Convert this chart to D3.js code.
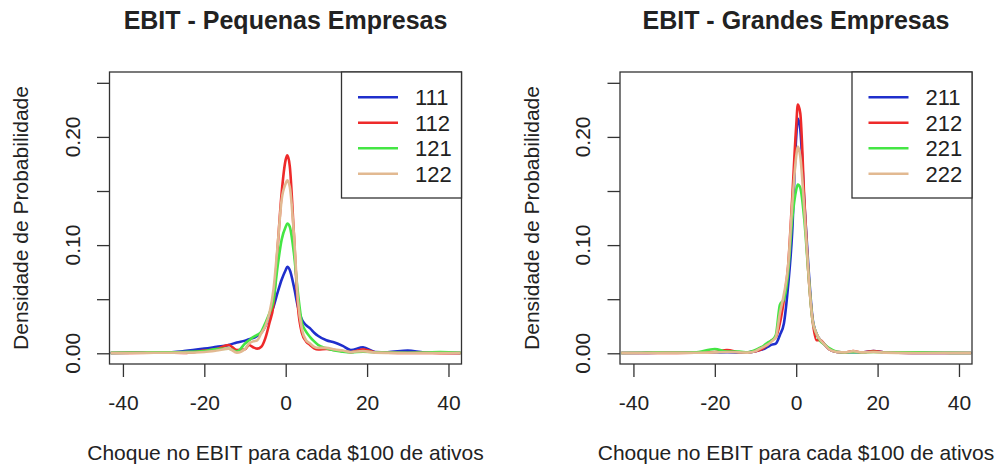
<!DOCTYPE html>
<html>
<head>
<meta charset="utf-8">
<script src="https://cdn.jsdelivr.net/npm/d3@7"></script>
<style>
  html, body { margin: 0; padding: 0; background: #fff; }
  svg { display: block; }
  text { font-family: "Liberation Sans", Arial, sans-serif; fill: #222; }
</style>
</head>
<body>
<svg id="chart" width="998" height="468"></svg>
<script>
// ---------- DATA ----------
const xGrid = [-43, -38, -34, -30, -25, -20, -17, -14, -12, -10, -9, -8, -7, -6, -5, -4, -3, -2, -1, 0, 0.4, 1, 2, 3, 4, 5, 6, 7, 8, 10, 12, 14, 16, 19, 22, 25, 30, 34, 38, 43];

const titles = ["EBIT - Pequenas Empresas", "EBIT - Grandes Empresas"];
const namesSmall = ["111", "112", "121", "122"];
const namesLarge = ["211", "212", "221", "222"];

const s111 = [.0003, .0005, .0008, .0008, .002, .0043, .006, .0077, .010, .0117, .013, .014, .016, .019, .025, .034, .043, .056, .068, .077, .080, .077, .062, .043, .031, .026, .023, .019, .016, .012, .010, .0068, .003, .0056, .0012, .001, .0025, .0008, .0005, .0003];
const s112 = [.0002, .0004, .0005, .0006, .0003, .0025, .004, .0077, .003, .0037, .0077, .0056, .0043, .006, .014, .028, .045, .097, .148, .179, .183, .173, .111, .043, .0185, .011, .0077, .0046, .0035, .004, .003, .002, .001, .0037, .001, .0005, .0003, .0004, .0001, .0002];
const s121 = [.0004, .0006, .0008, .0009, .0012, .002, .004, .0043, .0015, .009, .012, .015, .017, .020, .028, .037, .049, .080, .105, .117, .120, .117, .093, .056, .028, .020, .015, .011, .0077, .0046, .0025, .0015, .001, .0015, .0008, .0006, .0005, .0006, .0012, .0004];
const s122 = [.0002, .0003, .0004, .0005, .0006, .0012, .0025, .0043, .0006, .004, .009, .011, .012, .0185, .025, .037, .059, .099, .142, .157, .160, .154, .111, .049, .022, .012, .009, .006, .005, .005, .0035, .0025, .0012, .002, .0006, .0004, .0003, .0003, .0003, .0002];

const s211 = [.0002, .0003, .0005, .0005, .0006, .0008, .0010, .0006, .0008, .002, .003, .004, .006, .008, .009, .017, .028, .062, .111, .200, .217, .207, .139, .080, .033, .018, .012, .008, .004, .0012, .0008, .001, .0008, .002, .0008, .0005, .0004, .0003, .0003, .0002];
const s212 = [.0002, .0003, .0004, .0004, .0005, .0012, .003, .001, .0006, .002, .003, .005, .008, .012, .015, .028, .050, .080, .142, .210, .230, .222, .142, .074, .031, .012, .012, .008, .004, .0012, .0008, .002, .001, .002, .0008, .0005, .0003, .0003, .0002, .0002];
const s221 = [.0003, .0005, .0008, .0006, .0008, .004, .0015, .0015, .0008, .003, .005, .007, .010, .012, .017, .045, .050, .074, .123, .151, .156, .153, .123, .074, .031, .018, .011, .008, .005, .0015, .0008, .001, .0008, .0012, .0006, .0008, .0008, .0006, .0004, .0003];
const s222 = [.0002, .0003, .0004, .0004, .0005, .0008, .0012, .0008, .0006, .002, .004, .006, .008, .011, .015, .037, .055, .080, .136, .182, .191, .182, .133, .074, .031, .018, .012, .008, .004, .0012, .0008, .002, .0008, .0012, .0006, .0004, .0003, .0003, .0002, .0002];

const xTicks = [-40, -20, 0, 20, 40];
const yTicks = [0, 0.05, 0.10, 0.15, 0.20, 0.25];
const yLabels = [0, 0.10, 0.20];
const xTitle = "Choque no EBIT para cada $100 de ativos";
const yTitle = "Densidade de Probabilidade";
const colors = ["#1f2fcc", "#ee2a2a", "#44e644", "#e2b991"];

// ---------- LAYOUT ----------
const svg = d3.select("#chart");
const plotTop = 72, plotBottom = 364;
const panels = [
  { L: 109.5, R: 461.5, title: titles[0], names: namesSmall, series: [s111, s112, s121, s122] },
  { L: 620, R: 972, title: titles[1], names: namesLarge, series: [s211, s212, s221, s222] }
];

panels.forEach((p, pi) => {
  const g = svg.append("g");
  const x = d3.scaleLinear().domain([-43.3, 43.2]).range([p.L, p.R]);
  const y = d3.scaleLinear().domain([-0.0099, 0.26]).range([plotBottom, plotTop]);
  const cx = (p.L + p.R) / 2;

  // clip
  const clipId = "clip" + pi;
  svg.append("defs").append("clipPath").attr("id", clipId)
    .append("rect").attr("x", p.L).attr("y", plotTop).attr("width", p.R - p.L).attr("height", plotBottom - plotTop);

  // curves
  const line = d3.line().x((d, i) => x(xGrid[i])).y(d => y(d)).curve(d3.curveMonotoneX);
  const cg = g.append("g").attr("clip-path", `url(#${clipId})`);
  p.series.forEach((s, i) => {
    cg.append("path").attr("d", line(s)).attr("fill", "none")
      .attr("stroke", colors[i]).attr("stroke-width", 2.6).attr("stroke-linejoin", "round");
  });

  // box
  g.append("rect").attr("x", p.L).attr("y", plotTop).attr("width", p.R - p.L).attr("height", plotBottom - plotTop)
    .attr("fill", "none").attr("stroke", "#333").attr("stroke-width", 1.3);

  // x axis
  const xa = g.append("g").attr("transform", `translate(0,${plotBottom})`)
    .call(d3.axisBottom(x).tickValues(xTicks).tickSize(13).tickPadding(18).tickFormat(d => String(d)));
  xa.select(".domain").remove();
  xa.selectAll("line").attr("stroke", "#333").attr("stroke-width", 1.3);
  xa.selectAll("text").attr("font-size", 21).attr("font-family", "Liberation Sans, Arial, sans-serif").attr("fill", "#222");

  // y axis
  const ya = g.append("g").attr("transform", `translate(${p.L},0)`)
    .call(d3.axisLeft(y).tickValues(yTicks).tickSize(12.5).tickFormat(""));
  ya.select(".domain").remove();
  ya.selectAll("line").attr("stroke", "#333").attr("stroke-width", 1.3);
  yLabels.forEach(v => {
    g.append("text").attr("transform", `translate(${p.L - 30},${y(v)}) rotate(-90)`)
      .attr("text-anchor", "middle").attr("font-size", 21).text(v.toFixed(2));
  });

  // titles
  g.append("text").attr("x", cx).attr("y", 29).attr("text-anchor", "middle")
    .attr("font-size", 25).attr("font-weight", "bold").text(p.title);
  g.append("text").attr("x", cx).attr("y", 460).attr("text-anchor", "middle")
    .attr("font-size", 21).text(xTitle);
  g.append("text").attr("transform", `translate(${p.L - 81.5},${(plotTop + plotBottom) / 2}) rotate(-90)`)
    .attr("text-anchor", "middle").attr("font-size", 21).text(yTitle);

  // legend
  const lx = p.L + 232;
  g.append("rect").attr("x", lx).attr("y", plotTop).attr("width", p.R - lx).attr("height", 126)
    .attr("fill", "#fff").attr("stroke", "#333").attr("stroke-width", 1.3);
  const rows = [97.3, 122.7, 148.3, 173.8];
  p.names.forEach((n, i) => {
    g.append("line").attr("x1", p.L + 248.5).attr("x2", p.L + 288.5)
      .attr("y1", rows[i]).attr("y2", rows[i]).attr("stroke", colors[i]).attr("stroke-width", 2.6);
    g.append("text").attr("x", p.L + 305.5).attr("y", rows[i] + 8).attr("font-size", 22).text(n);
  });
});
</script>
</body>
</html>
